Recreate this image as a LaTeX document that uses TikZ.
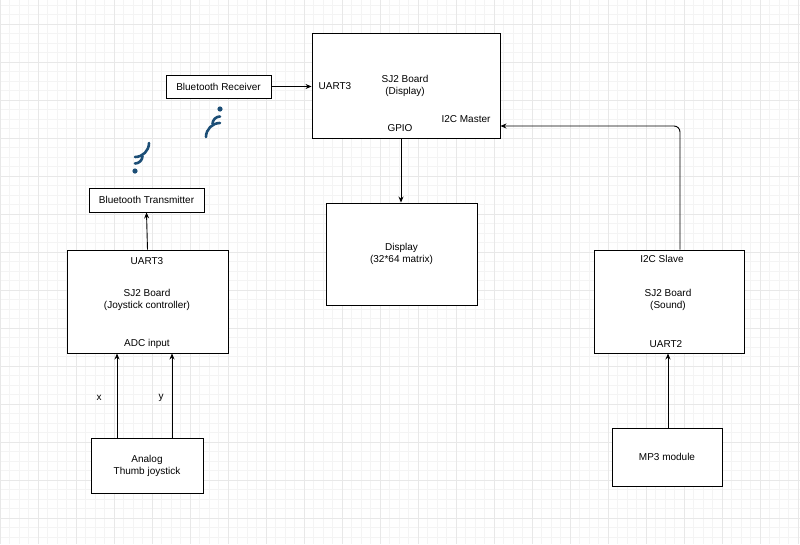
\documentclass[tikz,border=0pt]{standalone}
\usepackage{fontspec}
\setmainfont{Liberation Sans}
\usetikzlibrary{arrows.meta}
\definecolor{minor}{RGB}{244,244,244}
\definecolor{major}{RGB}{232,232,232}
\definecolor{icon}{RGB}{28,78,118}
\begin{document}
\begin{tikzpicture}[x=1pt,y=-1pt,
  box/.style={draw,line width=0.9pt,fill=white,inner sep=0pt},
  lbl/.style={font=\fontsize{10}{12}\selectfont,align=center},
  arr/.style={-{Stealth[length=6pt,width=5pt]},line width=0.9pt},
  ic/.style={icon,line width=2.6pt,line cap=round}]
\useasboundingbox (0,0) rectangle (800,544);
\fill[white] (0,0) rectangle (800,544);
\foreach \i in {0,...,84} {\draw[minor,line width=0.5pt] (\i*9.5,0) -- (\i*9.5,544);}
\foreach \i in {0,...,57} {\draw[minor,line width=0.5pt] (0,5+\i*9.5) -- (800,5+\i*9.5);}
\foreach \i in {0,...,21} {\draw[major,line width=0.8pt] (\i*38,0) -- (\i*38,544);}
\foreach \i in {0,...,14} {\draw[major,line width=0.8pt] (0,24+\i*38) -- (800,24+\i*38);}
% boxes
\node[box,minimum width=188pt,minimum height=105pt] (disp) at (406,85.5) {};
\node[lbl] (dt) at (405,86) {SJ2 Board\\(Display)};
\node[lbl] (du) at (335,86) {UART3};
\node[lbl] (dg) at (400,128) {GPIO};
\node[lbl] (dm) at (466,119) {I2C Master};
\node[box,lbl,minimum width=105pt,minimum height=23pt] (rx) at (218.5,86.5) {Bluetooth Receiver};
\node[box,lbl,minimum width=115pt,minimum height=24pt] (tx) at (146.5,200) {Bluetooth Transmitter};
\node[box,minimum width=161pt,minimum height=103pt] (joy) at (147.5,301.5) {};
\node[lbl] (ju) at (147,261) {UART3};
\node[lbl] (jt) at (147,300) {SJ2 Board\\(Joystick controller)};
\node[lbl] (ja) at (147,344) {ADC input};
\node[box,lbl,minimum width=112pt,minimum height=55pt] (an) at (147,465.5) {Analog\\Thumb joystick};
\node[box,lbl,minimum width=151pt,minimum height=102pt] (mat) at (401.5,254) {Display\\(32*64 matrix)};
\node[box,minimum width=150pt,minimum height=103pt] (snd) at (669,301.5) {};
\node[lbl] (si) at (662,259) {I2C Slave};
\node[lbl] (st) at (668,300) {SJ2 Board\\(Sound)};
\node[lbl] (su) at (666,344) {UART2};
\node[box,lbl,minimum width=110pt,minimum height=58pt] (mp3) at (667,457) {MP3 module};
\node[lbl] (lx) at (99,398) {x};
\node[lbl] (ly) at (161,398) {y};
% connectors
\draw[arr] (rx.east) -- (disp.west |- rx.east);
\draw[arr] (joy.north) -- (tx.south);
\draw[arr] (an.north -| 117,0) -- (joy.south -| 117,0);
\draw[arr] (an.north -| 172,0) -- (joy.south -| 172,0);
\draw[arr] (disp.south -| 401,0) -- (mat.north -| 401,0);
\draw[arr] (mp3.north -| 668,0) -- (snd.south -| 668,0);
\coordinate (c1) at (680,126);
\draw[arr,rounded corners=6pt] (snd.north -| 680,0) -- (c1) -- (disp.east |- c1);
% icons
\fill[icon] (135,171) circle (2.6pt);
\draw[ic] (135,163.5) arc (90:0:7.5);
\draw[ic] (135,157) arc (90:0:14);
\fill[icon] (220,109) circle (2.6pt);
\draw[ic] (220,116.5) arc (-90:-180:7.5);
\draw[ic] (220,123) arc (-90:-180:14);
\end{tikzpicture}
\end{document}
